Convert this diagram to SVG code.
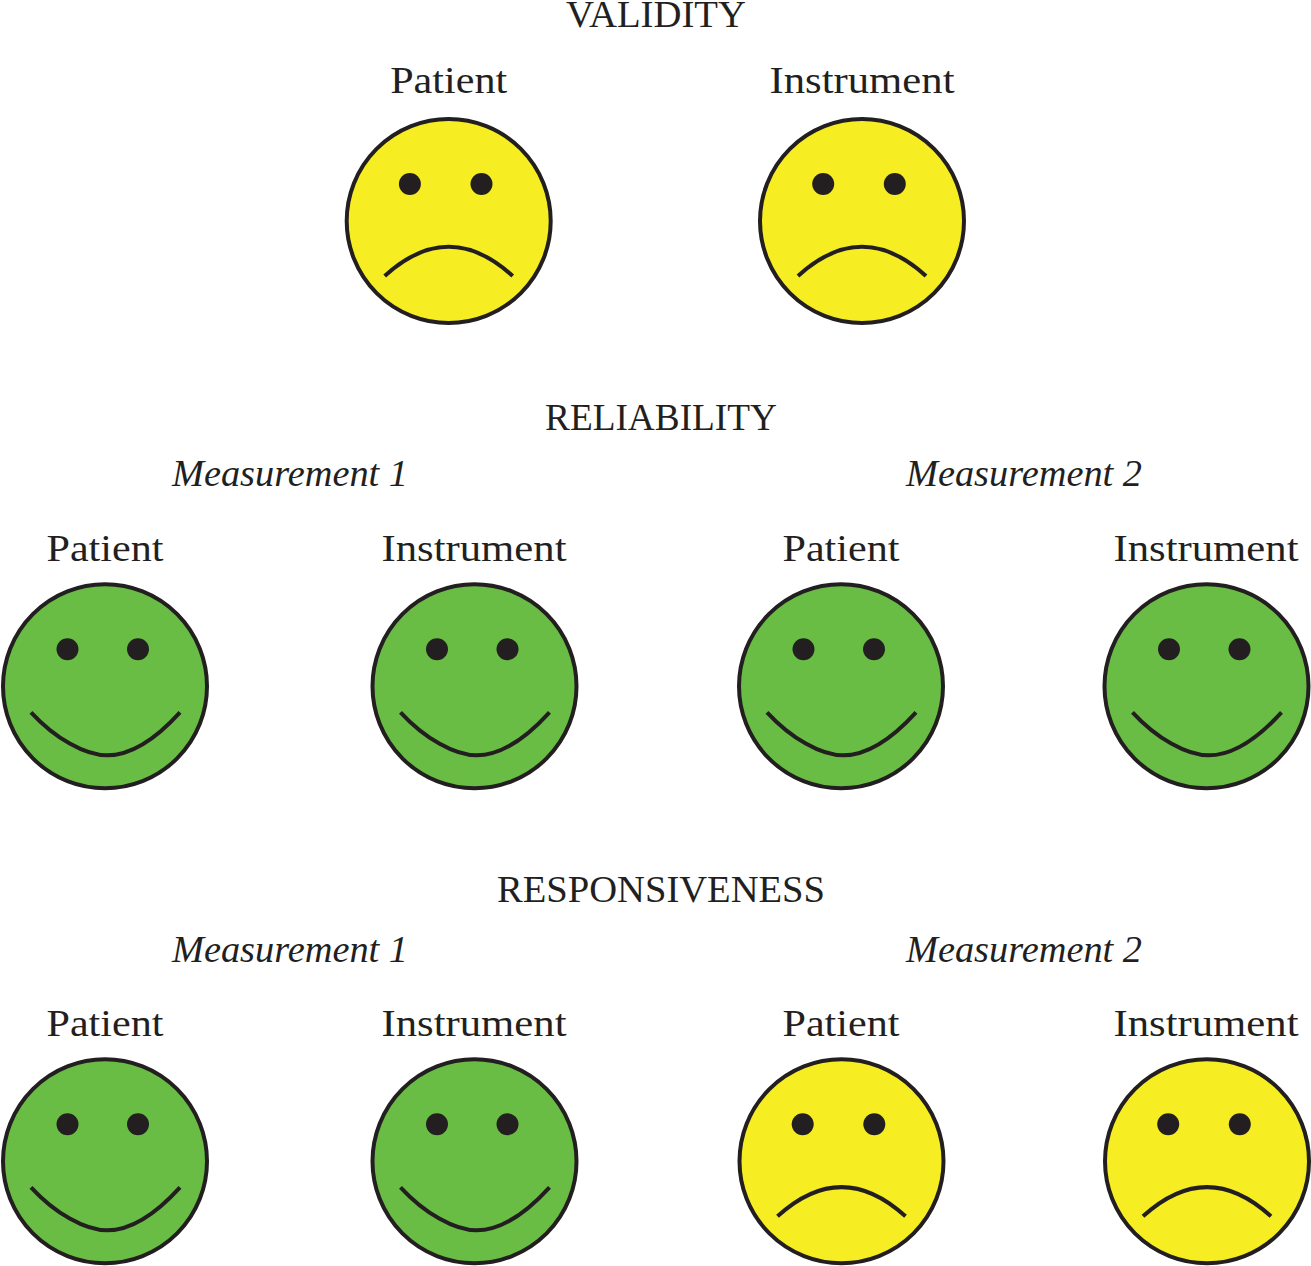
<svg xmlns="http://www.w3.org/2000/svg" xmlns:xlink="http://www.w3.org/1999/xlink" width="1311" height="1266" viewBox="0 0 1311 1266">
<style>
text{font-family:"Liberation Serif","DejaVu Serif",serif;font-size:38.5px;fill:#231f20;text-anchor:middle}
.m{font-style:italic}
.y{fill:#f6ee23}.g{fill:#69bd45}
.o{stroke:#231f20;stroke-width:4;}
.l{fill:none;stroke:#231f20;stroke-width:4}
.e{fill:#231f20}
</style>
<defs>
<g id="sad"><circle class="e" cx="-38.8" cy="-37" r="11"/><circle class="e" cx="32.8" cy="-37" r="11"/><path class="l" d="M-64 55Q0 -3.500 64 55"/></g>
<g id="happy"><circle class="e" cx="-37.500" cy="-37" r="11"/><circle class="e" cx="33" cy="-37" r="11"/><path class="l" d="M-74 26C-50 52-20 69 2 69C30 69 55 48 75 26"/></g>
</defs>
<rect width="1311" height="1266" fill="#fff"/>
<g id="labels">
<text x="656" y="26.500" textLength="180" lengthAdjust="spacingAndGlyphs">VALIDITY</text>
<text x="448.700" y="92.500" textLength="117" lengthAdjust="spacingAndGlyphs">Patient</text>
<text x="862" y="92.500" textLength="185" lengthAdjust="spacingAndGlyphs">Instrument</text>
<text x="661" y="430" textLength="232" lengthAdjust="spacingAndGlyphs">RELIABILITY</text>
<text class="m" x="290" y="486" textLength="236" lengthAdjust="spacingAndGlyphs">Measurement 1</text>
<text class="m" x="1024" y="486" textLength="236" lengthAdjust="spacingAndGlyphs">Measurement 2</text>
<text x="105" y="560.500" textLength="117" lengthAdjust="spacingAndGlyphs">Patient</text>
<text x="474" y="560.500" textLength="185" lengthAdjust="spacingAndGlyphs">Instrument</text>
<text x="841" y="560.500" textLength="117" lengthAdjust="spacingAndGlyphs">Patient</text>
<text x="1206" y="560.500" textLength="185" lengthAdjust="spacingAndGlyphs">Instrument</text>
<text x="661" y="901.500" textLength="328" lengthAdjust="spacingAndGlyphs">RESPONSIVENESS</text>
<text class="m" x="290" y="961.500" textLength="236" lengthAdjust="spacingAndGlyphs">Measurement 1</text>
<text class="m" x="1024" y="961.500" textLength="236" lengthAdjust="spacingAndGlyphs">Measurement 2</text>
<text x="105" y="1035.500" textLength="117" lengthAdjust="spacingAndGlyphs">Patient</text>
<text x="474" y="1035.500" textLength="185" lengthAdjust="spacingAndGlyphs">Instrument</text>
<text x="841" y="1035.500" textLength="117" lengthAdjust="spacingAndGlyphs">Patient</text>
<text x="1206" y="1035.500" textLength="185" lengthAdjust="spacingAndGlyphs">Instrument</text>
</g>
<g id="face-v1" transform="translate(448.700,221)"><circle class="y o" r="102"/><use xlink:href="#sad"/></g>
<g id="face-v2" transform="translate(862,221)"><circle class="y o" r="102"/><use xlink:href="#sad"/></g>
<g id="face-r1" transform="translate(105,686.300)"><circle class="g o" r="102"/><use xlink:href="#happy"/></g>
<g id="face-r2" transform="translate(474.500,686.300)"><circle class="g o" r="102"/><use xlink:href="#happy"/></g>
<g id="face-r3" transform="translate(841,686.300)"><circle class="g o" r="102"/><use xlink:href="#happy"/></g>
<g id="face-r4" transform="translate(1206.500,686.300)"><circle class="g o" r="102"/><use xlink:href="#happy"/></g>
<g id="face-s1" transform="translate(105,1161.300)"><circle class="g o" r="102"/><use xlink:href="#happy"/></g>
<g id="face-s2" transform="translate(474.500,1161.300)"><circle class="g o" r="102"/><use xlink:href="#happy"/></g>
<g id="face-s3" transform="translate(841.500,1161.300)"><circle class="y o" r="102"/><use xlink:href="#sad"/></g>
<g id="face-s4" transform="translate(1207,1161.300)"><circle class="y o" r="102"/><use xlink:href="#sad"/></g>
<g id="connectors"/>
</svg>
